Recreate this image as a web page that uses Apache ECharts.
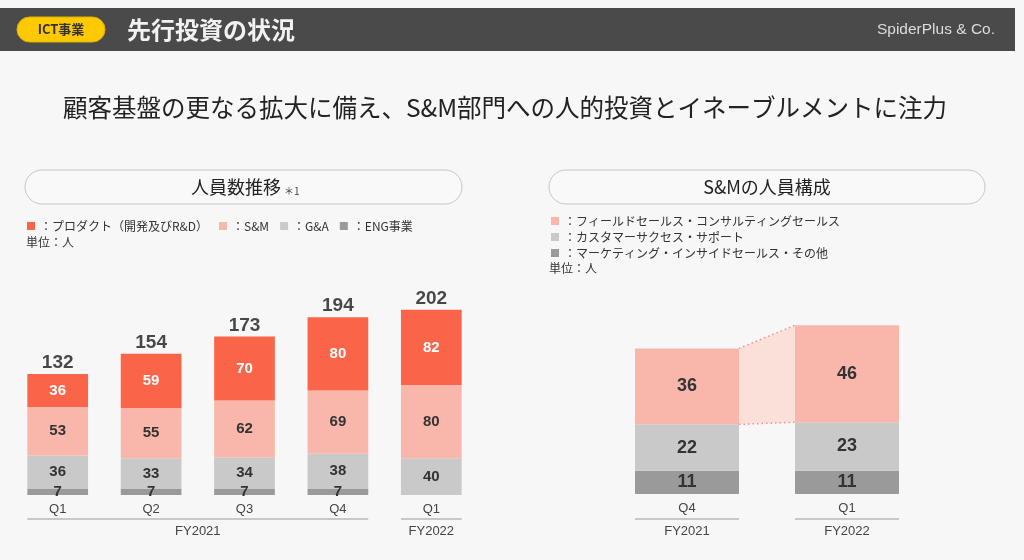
<!DOCTYPE html>
<html lang="ja">
<head>
  <meta charset="UTF-8">
  <title>先行投資の状況</title>
  <script src="https://cdn.jsdelivr.net/npm/echarts@6.0.0/dist/echarts.min.js"></script>
  <style>
    html, body { margin: 0; padding: 0; background: #f7f7f7; }
  </style>
</head>
<body>
  <div id="main" style="width: 1024px;height:560px;"></div>

  <script type="text/javascript">
    // Headcount trend (left chart)
    const quarters = ['Q1', 'Q2', 'Q3', 'Q4', 'Q1 '];
    const fiscalGroups = [['FY2021', 0, 3], ['FY2022', 4, 4]];
    const product = [36, 59, 70, 80, 82];
    const sales = [53, 55, 62, 69, 80];
    const admin = [36, 33, 34, 38, 40];
    const eng = [7, 7, 7, 7, null];
    const totals = [132, 154, 173, 194, 202];

    // S&M breakdown (right chart)
    const smQuarters = ['Q4', 'Q1'];
    const smYears = ['FY2021', 'FY2022'];
    const fieldSales = [36, 46];
    const customerSuccess = [22, 23];
    const marketing = [11, 11];

    const FONT = '"Liberation Sans", "Noto Sans CJK JP", sans-serif';
    const JP = '"Noto Sans CJK JP", "Liberation Sans", sans-serif';
    const C_PRODUCT = '#fa6449';
    const C_SALES = '#f9b7ab';
    const C_ADMIN = '#c9c9c9';
    const C_ENG = '#9a9a9a';

    let myChart = echarts.init(document.getElementById('main'));

    const segLabel = (color, size) => ({
      show: true,
      position: 'inside',
      color: color,
      fontSize: size,
      fontWeight: 'bold',
      fontFamily: FONT
    });

    const axisLabel = { color: '#444', fontSize: 13, margin: 8, fontFamily: FONT };

    let options = {
      backgroundColor: '#f7f7f7',
      animation: false,
      legend: [{
        data: ['プロダクト（開発及びR&D）', 'S&M', 'G&A', 'ENG事業'],
        left: 22, top: 215,
        icon: 'rect', itemWidth: 8, itemHeight: 8, itemGap: 11,
        selectedMode: false,
        formatter: (name) => '：' + name,
        textStyle: { color: '#333', fontSize: 12, lineHeight: 12, fontFamily: JP }
      }, {
        data: ['フィールドセールス・コンサルティングセールス', 'カスタマーサクセス・サポート', 'マーケティング・インサイドセールス・その他'],
        left: 546, top: 210, orient: 'vertical',
        icon: 'rect', itemWidth: 8, itemHeight: 8, itemGap: 4,
        selectedMode: false,
        formatter: (name) => '：' + name,
        textStyle: { color: '#333', fontSize: 12, lineHeight: 12, fontFamily: JP }
      }],
      grid: [
        { left: 11, width: 467, top: 275, bottom: 65 },
        { left: 607, width: 320, top: 283, bottom: 66 }
      ],
      xAxis: [
        { type: 'category', gridIndex: 0, data: quarters, axisLine: { show: false }, axisTick: { show: false },
          axisLabel: Object.assign({ formatter: (v) => v.trim() }, axisLabel) },
        { type: 'category', gridIndex: 1, data: smQuarters, axisLine: { show: false }, axisTick: { show: false },
          axisLabel: axisLabel }
      ],
      yAxis: [
        { type: 'value', gridIndex: 0, min: 0, max: 240, show: false },
        { type: 'value', gridIndex: 1, min: 0, max: 100, show: false }
      ],
      series: [
        { name: 'ENG事業', type: 'bar', stack: 'hc', barWidth: '65%', data: eng,
          itemStyle: { color: C_ENG }, label: segLabel('#333', 15) },
        { name: 'G&A', type: 'bar', stack: 'hc', data: admin,
          itemStyle: { color: C_ADMIN }, label: segLabel('#333', 15) },
        { name: 'S&M', type: 'bar', stack: 'hc', data: sales,
          itemStyle: { color: C_SALES }, label: segLabel('#333', 15) },
        { name: 'プロダクト（開発及びR&D）', type: 'bar', stack: 'hc', data: product,
          itemStyle: { color: C_PRODUCT }, label: segLabel('#fff', 15) },
        { name: 'total', type: 'scatter', data: totals, symbolSize: 1,
          itemStyle: { color: 'rgba(0,0,0,0)' }, silent: true,
          label: { show: true, position: 'top', distance: 1, color: '#1a1a1a', fontSize: 19,
            fontWeight: 'bold', fontFamily: FONT, formatter: (p) => p.value } },

        { name: 'connector', type: 'custom', xAxisIndex: 1, yAxisIndex: 1, data: [[0]], silent: true, z: 1,
          renderItem: (params, api) => {
            const half = api.size([1, 0])[0] * 0.65 / 2;
            const b0 = marketing[0] + customerSuccess[0];
            const b1 = marketing[1] + customerSuccess[1];
            const tl = api.coord([0, b0 + fieldSales[0]]);
            const bl = api.coord([0, b0]);
            const tr = api.coord([1, b1 + fieldSales[1]]);
            const br = api.coord([1, b1]);
            const xl = tl[0] + half, xr = tr[0] - half;
            const dotted = { stroke: '#f3917f', lineWidth: 1.5, lineDash: [1.5, 3], fill: null };
            return {
              type: 'group',
              children: [
                { type: 'polygon', shape: { points: [[xl, tl[1]], [xr, tr[1]], [xr, br[1]], [xl, bl[1]]] },
                  style: { fill: '#fbe0da' } },
                { type: 'polyline', shape: { points: [[xl, tl[1]], [xr, tr[1]]] }, style: dotted },
                { type: 'polyline', shape: { points: [[xl, bl[1]], [xr, br[1]]] }, style: dotted }
              ]
            };
          } },
        { name: 'マーケティング・インサイドセールス・その他', type: 'bar', stack: 'sm', xAxisIndex: 1, yAxisIndex: 1,
          barWidth: '65%', data: marketing, itemStyle: { color: C_ENG }, label: segLabel('#333', 18) },
        { name: 'カスタマーサクセス・サポート', type: 'bar', stack: 'sm', xAxisIndex: 1, yAxisIndex: 1,
          data: customerSuccess, itemStyle: { color: C_ADMIN }, label: segLabel('#333', 18) },
        { name: 'フィールドセールス・コンサルティングセールス', type: 'bar', stack: 'sm', xAxisIndex: 1, yAxisIndex: 1,
          data: fieldSales, itemStyle: { color: C_SALES }, label: segLabel('#333', 18) }
      ]
    };

    myChart.setOption(options);

    // Static page furniture: header, titles, boxes, unit notes
    let graphic = [
      { type: 'rect', shape: { x: 0, y: 8, width: 1015, height: 43 }, style: { fill: '#4a4a4a' } },
      { type: 'rect', shape: { x: 17, y: 17, width: 88, height: 25, r: 12.5 }, style: { fill: '#ffc900', stroke: '#e0b000' } },
      { type: 'text', x: 61, y: 29.5, style: { text: 'ICT事業', fill: '#333', font: 'bold 13px ' + JP, align: 'center', verticalAlign: 'middle' } },
      { type: 'text', x: 127, y: 30, style: { text: '先行投資の状況', fill: '#f2f2f2', font: 'bold 24px ' + JP, verticalAlign: 'middle' } },
      { type: 'text', x: 995, y: 30, style: { text: 'SpiderPlus & Co.', fill: '#dcdcdc', font: '15.5px ' + FONT, align: 'right', verticalAlign: 'middle' } },
      { type: 'text', x: 505, y: 108, style: { text: '顧客基盤の更なる拡大に備え、S&M部門への人的投資とイネーブルメントに注力', fill: '#222', font: '24.5px ' + JP, align: 'center', verticalAlign: 'middle' } },
      { type: 'rect', shape: { x: 25, y: 170, width: 437, height: 34, r: 17 }, style: { fill: '#f9f9f9', stroke: '#c6c6c6', lineWidth: 1 } },
      { type: 'text', x: 236, y: 187, style: { text: '人員数推移', fill: '#222', font: '18px ' + JP, align: 'center', verticalAlign: 'middle' } },
      { type: 'text', x: 284, y: 191, style: { text: '＊1', fill: '#444', font: '10px ' + JP, verticalAlign: 'middle' } },
      { type: 'rect', shape: { x: 549, y: 170, width: 436, height: 34, r: 17 }, style: { fill: '#f9f9f9', stroke: '#c6c6c6', lineWidth: 1 } },
      { type: 'text', x: 767, y: 187, style: { text: 'S&Mの人員構成', fill: '#222', font: '18px ' + JP, align: 'center', verticalAlign: 'middle' } },
      { type: 'text', x: 26, y: 242, style: { text: '単位：人', fill: '#333', font: '12px ' + JP, verticalAlign: 'middle' } },
      { type: 'text', x: 549, y: 268, style: { text: '単位：人', fill: '#333', font: '12px ' + JP, verticalAlign: 'middle' } }
    ];

    // Fiscal-year brackets under the category labels, placed from the axis scale
    function bracket(axisIndex, from, to, label, band) {
      const half = band * 0.65 / 2;
      const x0 = myChart.convertToPixel({ xAxisIndex: axisIndex }, from) - half;
      const x1 = myChart.convertToPixel({ xAxisIndex: axisIndex }, to) + half;
      graphic.push(
        { type: 'line', shape: { x1: x0, y1: 519, x2: x1, y2: 519 }, style: { stroke: '#c8c8c8', lineWidth: 2 } },
        { type: 'text', x: (x0 + x1) / 2, y: 531, style: { text: label, fill: '#444', font: '13px ' + FONT, align: 'center', verticalAlign: 'middle' } }
      );
    }
    fiscalGroups.forEach((g) => bracket(0, g[1], g[2], g[0], 467 / quarters.length));
    smYears.forEach((y, i) => bracket(1, i, i, y, 320 / smQuarters.length));

    myChart.setOption({ graphic: graphic });
  </script>
</body>
</html>
